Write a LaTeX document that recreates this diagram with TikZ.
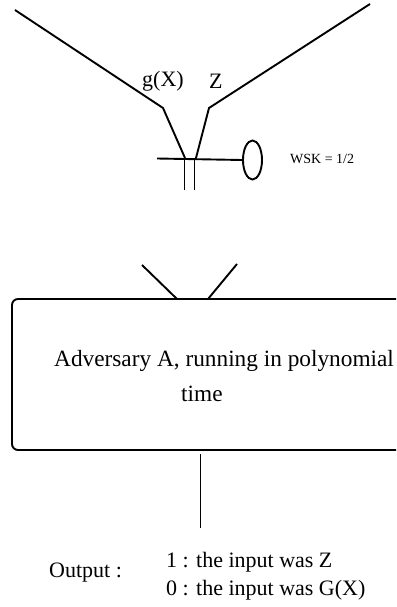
\documentclass[tikz,border=0pt]{standalone}
\usepackage{fontspec}
\usetikzlibrary{shapes.geometric}
\setmainfont{Liberation Serif}
\begin{document}
\begin{tikzpicture}[x=1pt,y=-1pt,
  wire/.style={line width=1.9pt, line join=miter},
  lbl/.style={inner sep=0pt, anchor=base west, font=\fontsize{22}{26}\selectfont},
  small/.style={inner sep=0pt, anchor=base west, font=\fontsize{14}{16}\selectfont}]
\useasboundingbox (0,0) rectangle (396,607);
\clip (0,0) rectangle (396,607);
% switch: two input wires meeting at the junction
\coordinate (la) at (15,10);
\coordinate (lb) at (163,108);
\coordinate (lc) at (185,158);
\coordinate (ra) at (370,4);
\coordinate (rb) at (209,108);
\coordinate (rc) at (196,158);
\draw[wire] (la) -- (lb) -- (lc);
\draw[wire] (ra) -- (rb) -- (rc);
% lever with its knob
\coordinate (h0) at (157,158.5);
\node[draw, line width=1.9pt, ellipse, minimum width=19pt, minimum height=39pt, inner sep=0pt] (knob) at (252.5,160) {};
\draw[wire] (h0) -- (knob.west);
% contacts below the junction
\coordinate (c1t) at (184.5,158.5);
\coordinate (c1b) at (184.5,190);
\coordinate (c2t) at (194.5,158.5);
\coordinate (c2b) at (194.5,190);
\draw[wire] (c1t) -- (c1b);
\draw[wire] (c2t) -- (c2b);
\node[lbl] (gx) at (142,87) {g(X)};
\node[lbl] (z) at (209,89) {Z};
\node[small] (wsk) at (290,163) {WSK = 1/2};
% adversary box, running off the right edge
\draw[wire, rounded corners=6pt] (12,299) rectangle (430,450);
\coordinate (i1) at (142,265);
\coordinate (i1e) at (177,299);
\coordinate (i2) at (237,264);
\coordinate (i2e) at (208,299);
\draw[wire] (i1) -- (i1e);
\draw[wire] (i2) -- (i2e);
\node[lbl, font=\fontsize{23.3}{27}\selectfont] (adv) at (54,366.5) {Adversary A, running in polynomial};
\node[lbl, font=\fontsize{23.3}{27}\selectfont] (time) at (181,401.5) {time};
% output wire and result
\coordinate (o1) at (200.5,454);
\coordinate (o2) at (200.5,528);
\draw[wire] (o1) -- (o2);
\node[lbl] (out) at (49,577) {Output :};
\node[lbl] (r1) at (166,567) {1 : the input was Z};
\node[lbl] (r0) at (166,595) {0 : the input was G(X)};
\end{tikzpicture}
\end{document}
